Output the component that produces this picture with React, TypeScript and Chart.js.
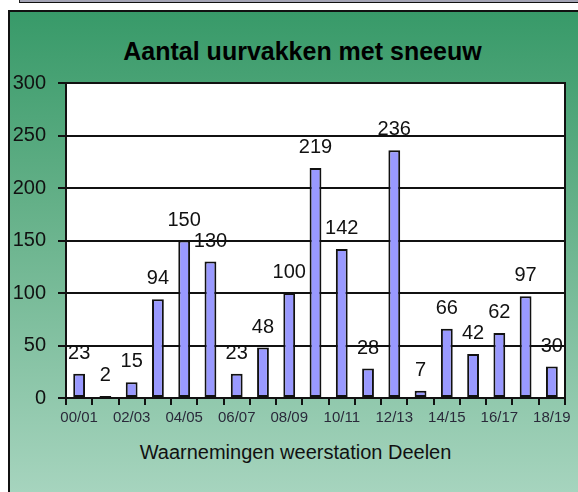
import React, { useEffect, useRef } from 'react';
import { Chart, registerables } from 'chart.js';

Chart.register(...registerables);

const seasons = ['00/01', '01/02', '02/03', '03/04', '04/05', '05/06', '06/07', '07/08', '08/09', '09/10', '10/11', '11/12', '12/13', '13/14', '14/15', '15/16', '16/17', '17/18', '18/19'];
const hoursWithSnow = [23, 2, 15, 94, 150, 130, 23, 48, 100, 219, 142, 28, 236, 7, 66, 42, 62, 97, 30];
const yTickValues = [0, 50, 100, 150, 200, 250, 300];
const chartTitle = 'Aantal uurvakken met sneeuw';
const xAxisTitle = 'Waarnemingen weerstation Deelen';

const FONT = '"Liberation Sans", Arial, Helvetica, sans-serif';

const plotFrame = {
  id: 'plotFrame',
  beforeDraw(chart: any) {
    const { ctx, chartArea: a } = chart;
    ctx.save();
    ctx.fillStyle = '#ffffff';
    ctx.fillRect(a.left, a.top, a.right - a.left, a.bottom - a.top);
    ctx.restore();
  },
  afterDraw(chart: any) {
    const { ctx, chartArea: a } = chart;
    ctx.save();
    ctx.strokeStyle = '#111';
    ctx.lineWidth = 2;
    ctx.beginPath();
    ctx.moveTo(a.right, a.top - 1);
    ctx.lineTo(a.right, a.bottom);
    ctx.stroke();
    ctx.restore();
  },
};

const valueLabels = {
  id: 'valueLabels',
  afterDatasetsDraw(chart: any) {
    const { ctx } = chart;
    const meta = chart.getDatasetMeta(0);
    const data = chart.data.datasets[0].data;
    ctx.save();
    ctx.font = `20px ${FONT}`;
    ctx.fillStyle = '#111';
    ctx.textAlign = 'center';
    ctx.textBaseline = 'alphabetic';
    meta.data.forEach((bar: any, i: number) => {
      ctx.fillText(String(data[i]), bar.x, bar.y - 15);
    });
    ctx.restore();
  },
};

export default function App() {
  const canvasRef = useRef<HTMLCanvasElement | null>(null);

  useEffect(() => {
    const canvas = canvasRef.current;
    if (!canvas) return;
    const chart = new Chart(canvas, {
      type: 'bar',
      data: {
        labels: seasons,
        datasets: [
          {
            data: hoursWithSnow,
            backgroundColor: '#9999ff',
            borderColor: '#111',
            borderWidth: 2,
            borderSkipped: false,
            categoryPercentage: 1,
            barPercentage: 0.45,
          },
        ],
      },
      options: {
        responsive: false,
        animation: false,
        devicePixelRatio: 1,
        layout: { padding: { left: 0, right: 13, top: 83, bottom: 0 } },
        plugins: {
          legend: { display: false },
          tooltip: { enabled: false },
          title: { display: false },
        },
        scales: {
          x: {
            type: 'category',
            offset: true,
            afterFit: (scale: any) => {
              scale.height = 94;
            },
            grid: {
              offset: true,
              drawOnChartArea: false,
              drawTicks: true,
              tickLength: 7,
              color: '#111',
              lineWidth: 2,
            },
            border: { display: true, color: '#111', width: 2 },
            ticks: {
              autoSkip: false,
              maxRotation: 0,
              minRotation: 0,
              padding: 4,
              color: '#2a2a3a',
              font: { family: FONT, size: 15 },
              callback: (_v: any, i: number) => (i % 2 === 0 ? seasons[i] : ''),
            },
          },
          y: {
            min: 0,
            max: 300,
            afterFit: (scale: any) => {
              scale.width = 66;
            },
            afterBuildTicks: (scale: any) => {
              scale.ticks = yTickValues.map((v) => ({ value: v }));
            },
            grid: {
              color: '#111',
              lineWidth: 2,
              drawTicks: true,
              tickLength: 8,
            },
            border: { display: true, color: '#111', width: 2 },
            ticks: {
              padding: 12,
              color: '#111',
              font: { family: FONT, size: 20 },
            },
          },
        },
      },
      plugins: [plotFrame, valueLabels],
    });
    return () => chart.destroy();
  }, []);

  return (
    <div style={{ position: 'fixed', left: 0, top: 0, width: 578, height: 492, background: '#fff', overflow: 'hidden' }}>
      <div
        style={{
          position: 'absolute',
          left: 19,
          top: 0,
          width: 559,
          height: 2,
          background: '#a3a3b4',
          borderLeft: '1px solid #222',
          borderBottom: '1px solid #111',
        }}
      />
      <div
        style={{
          position: 'absolute',
          left: 8,
          top: 10,
          width: 570,
          height: 482,
          boxSizing: 'border-box',
          borderLeft: '2px solid #111',
          borderTop: '2px solid #111',
          background: 'linear-gradient(to bottom, #389a69 0%, #64b088 40%, #a6d4be 100%)',
        }}
      />
      <div
        style={{
          position: 'absolute',
          left: 0,
          top: 36,
          width: 605,
          textAlign: 'center',
          fontFamily: FONT,
          fontSize: 25,
          fontWeight: 'bold',
          lineHeight: '30px',
          color: '#000',
          whiteSpace: 'nowrap',
        }}
      >
        {chartTitle}
      </div>
      <div
        style={{
          position: 'absolute',
          left: 13,
          top: 440,
          width: 565,
          textAlign: 'center',
          fontFamily: FONT,
          fontSize: 20,
          lineHeight: '24px',
          color: '#111',
          whiteSpace: 'nowrap',
        }}
      >
        {xAxisTitle}
      </div>
      <canvas
        ref={canvasRef}
        width={578}
        height={492}
        style={{ position: 'absolute', left: 0, top: 0, width: 578, height: 492, display: 'block' }}
      />
    </div>
  );
}
